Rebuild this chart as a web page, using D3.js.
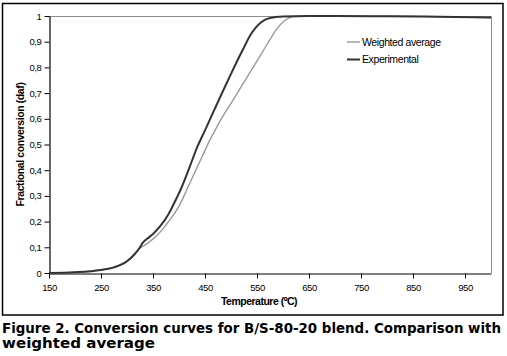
<!DOCTYPE html>
<html>
<head>
<meta charset="utf-8">
<script src="https://cdn.jsdelivr.net/npm/d3@7"></script>
<style>
  body { margin: 0; background: #fff; }
  text { font-family: "Liberation Sans", Arial, sans-serif; }
</style>
</head>
<body>
<script>
// temperatures (ºC) and fractional conversion
const tempExp = [150, 200, 250, 275, 300, 315, 325, 330, 335, 340, 350, 365, 380, 395, 403, 420, 435, 450, 465, 485, 500, 513, 525, 537, 548, 558, 575, 600, 650, 700, 800, 900, 1000];
const convExp = [0, 0.003, 0.012, 0.022, 0.046, 0.074, 0.1, 0.117, 0.127, 0.135, 0.152, 0.185, 0.23, 0.29, 0.324, 0.41, 0.49, 0.555, 0.622, 0.71, 0.775, 0.83, 0.878, 0.925, 0.956, 0.976, 0.992, 0.998, 1.0, 1.0, 0.999, 0.997, 0.994];

const tempAvg = [150, 200, 250, 275, 300, 315, 325, 332, 340, 350, 365, 380, 400, 415, 430, 445, 460, 472, 480, 500, 520, 540, 556, 570, 580, 590, 600, 610, 620, 650, 700, 800, 900, 1000];
const convAvg = [0, 0.003, 0.012, 0.022, 0.046, 0.074, 0.096, 0.106, 0.116, 0.132, 0.162, 0.2, 0.26, 0.324, 0.39, 0.455, 0.52, 0.565, 0.595, 0.66, 0.726, 0.792, 0.845, 0.892, 0.925, 0.955, 0.977, 0.991, 0.998, 1.0, 1.0, 0.999, 0.997, 0.994];

const xTicks = [150, 250, 350, 450, 550, 650, 750, 850, 950];
const yTicks = [0, 0.1, 0.2, 0.3, 0.4, 0.5, 0.6, 0.7, 0.8, 0.9, 1];

const seriesNames = ["Weighted average", "Experimental"];
const captionLines = ["Figure 2. Conversion curves for B/S-80-20 blend. Comparison with", "weighted average"];

const width = 507, height = 356;
const margin = { top: 16, right: 15, bottom: 83, left: 49 };

const svg = d3.select("body").append("svg")
    .attr("width", width)
    .attr("height", height);

// outer frame
svg.append("rect")
    .attr("x", 2.5).attr("y", 3.5)
    .attr("width", 500.5).attr("height", 311.5)
    .attr("fill", "none")
    .attr("stroke", "#000")
    .attr("stroke-width", 1.5);

const x = d3.scaleLinear().domain([150, 1000]).range([margin.left, width - margin.right - 1]);
const y = d3.scaleLinear().domain([0, 1]).range([height - margin.bottom, margin.top]);

// plot area border (grey, top and right)
svg.append("path")
    .attr("d", `M${x(150)},${y(1) + 0.5}H${x(1000) + 0.5}V${y(0)}`)
    .attr("fill", "none")
    .attr("stroke", "#8c8c8c")
    .attr("stroke-width", 1);

const fmt = d => d3.format(".1~f")(d).replace(".", ",");

const xAxis = svg.append("g")
    .attr("transform", `translate(0,${y(0) + 0.5})`)
    .call(d3.axisBottom(x).tickValues(xTicks).tickSize(5).tickSizeOuter(0).tickPadding(6));

const yAxis = svg.append("g")
    .attr("transform", `translate(${x(150) + 0.5},0)`)
    .call(d3.axisLeft(y).tickValues(yTicks).tickSize(5).tickSizeOuter(0).tickPadding(3).tickFormat(fmt));

[xAxis, yAxis].forEach(g => {
    g.select(".domain").attr("stroke", "#000").attr("stroke-width", 1.2);
    g.selectAll(".tick line").attr("stroke", "#000");
    g.selectAll(".tick text")
        .attr("fill", "#000")
        .style("font-size", "9.5px")
        .style("letter-spacing", "-0.4px")
        .style("font-family", "'Liberation Sans', Arial, sans-serif");
});

// axis titles
svg.append("text")
    .attr("x", 259).attr("y", 305)
    .attr("text-anchor", "middle")
    .style("font-size", "10.5px")
    .style("font-weight", "bold")
    .style("letter-spacing", "-0.5px")
    .text("Temperature (ºC)");

svg.append("text")
    .attr("transform", `translate(24,${(y(0) + y(1)) / 2}) rotate(-90)`)
    .attr("text-anchor", "middle")
    .style("font-size", "10.5px")
    .style("font-weight", "bold")
    .style("letter-spacing", "-0.4px")
    .text("Fractional conversion (daf)");

// curves
const line = d3.line()
    .x(d => x(d[0]))
    .y(d => y(d[1]))
    .curve(d3.curveMonotoneX);

svg.append("path")
    .datum(d3.zip(tempAvg, convAvg))
    .attr("d", line)
    .attr("fill", "none")
    .attr("stroke", "#999")
    .attr("stroke-width", 1.4);

svg.append("path")
    .datum(d3.zip(tempExp, convExp))
    .attr("d", line)
    .attr("fill", "none")
    .attr("stroke", "#333")
    .attr("stroke-width", 2);

// legend
const legendStyles = [
    { stroke: "#999", w: 1.4 },
    { stroke: "#333", w: 2 }
];
const legend = svg.append("g").attr("transform", "translate(347,42)");
seriesNames.forEach((name, i) => {
    legend.append("line")
        .attr("x1", 0).attr("x2", 13)
        .attr("y1", i * 17.5).attr("y2", i * 17.5)
        .attr("stroke", legendStyles[i].stroke)
        .attr("stroke-width", legendStyles[i].w);
    legend.append("text")
        .attr("x", 15).attr("y", i * 17.5)
        .attr("dy", "0.35em")
        .style("font-size", "10.5px")
        .style("letter-spacing", "-0.4px")
        .text(name);
});

// caption
svg.selectAll(".caption")
    .data(captionLines)
    .enter().append("text")
    .attr("class", "caption")
    .attr("x", 2)
    .attr("y", (d, i) => 332.5 + i * 15.5)
    .attr("textLength", (d, i) => i === 0 ? 499 : 153)
    .attr("lengthAdjust", "spacingAndGlyphs")
    .style("font-family", "'DejaVu Sans', sans-serif")
    .style("font-size", "13.5px")
    .style("font-weight", "bold")
    .text(d => d);
</script>
</body>
</html>
